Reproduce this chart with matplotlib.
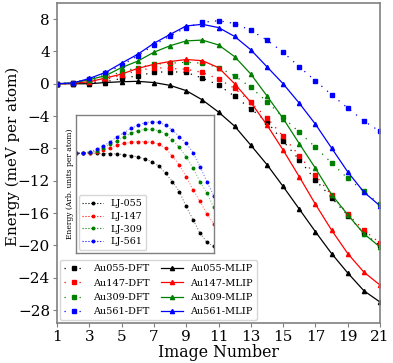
import matplotlib
matplotlib.use("Agg")
import matplotlib.pyplot as plt

plt.rcParams['font.family'] = 'DejaVu Serif'

images = list(range(1, 22))

# DFT reference energies (meV per atom)
au055_dft = [0, 0.02, 0.1, 0.25, 0.65, 1.0, 1.4, 1.5, 1.4, 0.7, -0.16, -1.55, -3.1, -4.7,
             -7.1, -9.4, -11.9, -14.1, -16.3, -18.5, -20.0]
au147_dft = [0, 0.05, 0.15, 0.5, 1.07, 1.6, 2.0, 1.9, 1.8, 1.4, 0.58, -0.58, -2.3, -4.2,
             -6.5, -8.9, -11.3, -13.8, -16.1, -18.1, -19.7]
au309_dft = [0, 0.08, 0.37, 0.78, 1.5, 2.0, 2.4, 2.55, 2.65, 2.55, 2.0, 1.0, -0.45, -2.2,
             -4.15, -6.0, -7.85, -9.8, -11.7, -13.3, -14.9]
au561_dft = [0, 0.15, 0.6, 1.27, 2.3, 3.45, 4.8, 5.9, 6.95, 7.6, 7.8, 7.45, 6.6, 5.4,
             3.9, 2.1, 0.37, -1.36, -3.0, -4.6, -5.9]

# MLIP energies (meV per atom)
au055_mlip = [0, 0.0, 0.0, 0.15, 0.25, 0.3, 0.15, -0.2, -0.85, -2.0, -3.5, -5.25, -7.6, -10.0,
              -12.7, -15.5, -18.3, -21.0, -23.4, -25.6, -27.0]
au147_mlip = [0, 0.05, 0.25, 0.7, 1.2, 1.9, 2.4, 2.75, 3.0, 2.85, 2.0, 0.0, -2.3, -5.1,
              -8.2, -11.5, -14.9, -18.1, -21.0, -23.3, -24.9]
au309_mlip = [0, 0.1, 0.5, 1.0, 2.0, 2.8, 3.9, 4.7, 5.3, 5.4, 4.8, 3.35, 1.2, -1.5,
              -4.3, -7.4, -10.45, -13.7, -16.2, -18.55, -20.2]
au561_mlip = [0, 0.1, 0.65, 1.4, 2.55, 3.65, 5.0, 6.1, 7.15, 7.35, 6.95, 5.85, 4.2, 2.1,
              0.0, -2.4, -5.0, -7.95, -10.9, -13.4, -15.1]

# Lennard-Jones inset (arbitrary units)
lj055 = [0, 0, 0, 0, -0.1, -0.1, -0.2, -0.4, -0.7, -1.1, -1.7, -2.5, -3.8, -6.0,
         -8.5, -11.5, -16.0, -20.0, -24.0, -26.8, -28.0]
lj147 = [0, 0, 0.2, 0.5, 1.0, 1.7, 2.4, 3.0, 3.3, 3.5, 3.5, 3.3, 2.8, 1.5,
         -0.8, -3.5, -7.0, -11.0, -14.5, -18.2, -21.2]
lj309 = [0, 0, 0.3, 0.8, 1.7, 2.7, 3.8, 5.0, 6.0, 6.8, 7.2, 7.2, 6.8, 5.8,
         4.0, 1.8, -1.0, -4.5, -8.5, -12.0, -16.3]
lj561 = [0, 0, 0.5, 1.2, 2.2, 3.5, 5.0, 6.2, 7.5, 8.5, 9.2, 9.5, 9.3, 8.5,
         7.0, 5.0, 3.0, 0.2, -4.0, -8.5, -12.8]

colors = ['black', 'red', 'green', 'blue']
dft_sets = [au055_dft, au147_dft, au309_dft, au561_dft]
mlip_sets = [au055_mlip, au147_mlip, au309_mlip, au561_mlip]
dft_names = ['Au055-DFT', 'Au147-DFT', 'Au309-DFT', 'Au561-DFT']
mlip_names = ['Au055-MLIP', 'Au147-MLIP', 'Au309-MLIP', 'Au561-MLIP']
lj_sets = [lj055, lj147, lj309, lj561]
lj_names = ['LJ-055', 'LJ-147', 'LJ-309', 'LJ-561']

fig = plt.figure(figsize=(3.93, 3.63), dpi=100)
ax = fig.add_axes([0.145, 0.110, 0.822, 0.882])

for vals, c, name in zip(dft_sets, colors, dft_names):
    ax.plot(images, vals, color=c, linestyle=(0, (1, 5)), lw=0.9, marker='s',
            markersize=3.4, label=name)
for vals, c, name in zip(mlip_sets, colors, mlip_names):
    ax.plot(images, vals, color=c, lw=0.9, marker='^', markersize=3, label=name)

ax.set_xlim(1, 21)
ax.set_ylim(-29.6, 10)
ax.set_xticks(range(1, 22, 2))
ax.set_yticks(range(-28, 9, 4))
ax.tick_params(labelsize=11, length=3, color='0.5', pad=2)
ax.set_xlabel('Image Number', fontsize=11.3, labelpad=0)
ax.set_ylabel('Energy (meV per atom)', fontsize=10.8)
ax.yaxis.set_label_coords(-0.115, 0.52)
for s in ax.spines.values():
    s.set_color('0.5')
    s.set_linewidth(1.2)
ax.legend(loc='lower left', ncol=2, fontsize=7, handlelength=2.2,
          borderaxespad=0.3, columnspacing=1.2, labelspacing=0.55)

# inset with LJ model
ins = fig.add_axes([0.193, 0.303, 0.351, 0.380])
for vals, c, name in zip(lj_sets, colors, lj_names):
    ins.plot(images, vals, color=c, linestyle=':', lw=0.8, alpha=0.5)
    ins.plot(images, vals, color=c, linestyle='none', marker='o', markersize=1.8)
    ins.plot([], [], color=c, linestyle=':', lw=0.8, marker='o', markersize=1.8,
             label=name)
ins.set_xlim(1, 21)
ins.set_ylim(-30, 11.5)
ins.set_xticks([])
ins.set_yticks([])
ins.set_ylabel('Energy (Arb. units per atom)', fontsize=5.5, labelpad=1)
for s in ins.spines.values():
    s.set_color('0.5')
    s.set_linewidth(1.0)
ins.legend(loc='lower left', fontsize=6.8, handlelength=2.2, borderaxespad=0.3,
           labelspacing=0.4)

fig.savefig('out.png', dpi=100)
